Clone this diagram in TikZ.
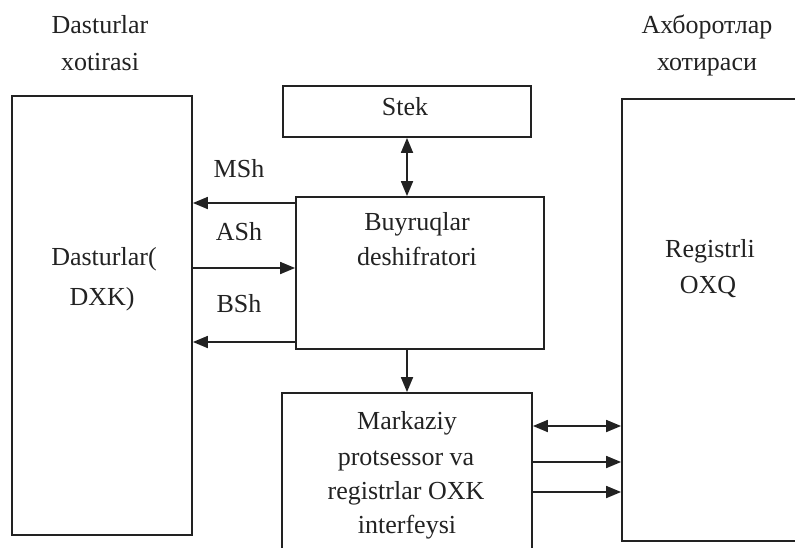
\documentclass[tikz,border=0pt]{standalone}
\usepackage{fontspec}
\setmainfont{Liberation Serif}
\usetikzlibrary{arrows.meta}
\definecolor{ink}{HTML}{222222}
\begin{document}
\begin{tikzpicture}[x=1pt,y=-1pt,
  box/.style={draw=ink, line width=1.8pt, inner sep=0pt, rectangle},
  lbl/.style={anchor=base, inner sep=0pt, font=\fontsize{26}{35}\selectfont, text=ink},
  arr/.style={draw=ink, line width=1.8pt, -{Triangle[length=15pt,width=12pt]}},
  dbl/.style={draw=ink, line width=1.8pt, {Triangle[length=15pt,width=12pt]}-{Triangle[length=15pt,width=12pt]}}]
\useasboundingbox (0,0) rectangle (795,547);

% blocks
\node[box, minimum width=180pt, minimum height=439pt] (dp) at (102,315.5) {};
\node[box, minimum width=200pt, minimum height=442pt] (ax) at (722,320) {};
\node[box, minimum width=248pt, minimum height=51pt] (stek) at (407,111.5) {};
\node[box, minimum width=248pt, minimum height=152pt] (buy) at (420,273) {};
\node[box, minimum width=250pt, minimum height=180pt] (mk) at (407,483) {};

% headings
\node[lbl] (h1a) at (100,33) {Dasturlar};
\node[lbl] (h1b) at (100,70) {xotirasi};
\node[lbl] (h2a) at (707,33) {Ахборотлар};
\node[lbl] (h2b) at (707,70) {хотираси};

% block texts
\node[lbl] (stekt) at (405,115) {Stek};
\node[lbl] (buya) at (417,230) {Buyruqlar};
\node[lbl] (buyb) at (417,265) {deshifratori};
\node[lbl] (dpa) at (104,265) {Dasturlar(};
\node[lbl] (dpb) at (102,305) {DXK)};
\node[lbl] (axa) at (710,257) {Registrli};
\node[lbl] (axb) at (708,293) {OXQ};
\node[lbl] (mka) at (407,429) {Markaziy};
\node[lbl] (mkb) at (406,465) {protsessor va};
\node[lbl] (mkc) at (406,499) {registrlar OXK};
\node[lbl] (mkd) at (407,533) {interfeysi};

% bus labels
\node[lbl] (msh) at (239,177) {MSh};
\node[lbl] (ash) at (239,240) {ASh};
\node[lbl] (bsh) at (239,312) {BSh};

% connector levels
\coordinate (yM) at (0,203);
\coordinate (yA) at (0,268);
\coordinate (yB) at (0,342);
\coordinate (y1) at (0,426);
\coordinate (y2) at (0,462);
\coordinate (y3) at (0,492);

\draw[arr] (buy.west |- yM) -- (dp.east |- yM);
\draw[arr] (dp.east |- yA) -- (buy.west |- yA);
\draw[arr] (buy.west |- yB) -- (dp.east |- yB);
\draw[dbl] (stek.south) -- (stek.south |- buy.north);
\draw[arr] (mk.north |- buy.south) -- (mk.north);
\draw[dbl] (mk.east |- y1) -- (ax.west |- y1);
\draw[arr] (mk.east |- y2) -- (ax.west |- y2);
\draw[arr] (mk.east |- y3) -- (ax.west |- y3);
\end{tikzpicture}
\end{document}
